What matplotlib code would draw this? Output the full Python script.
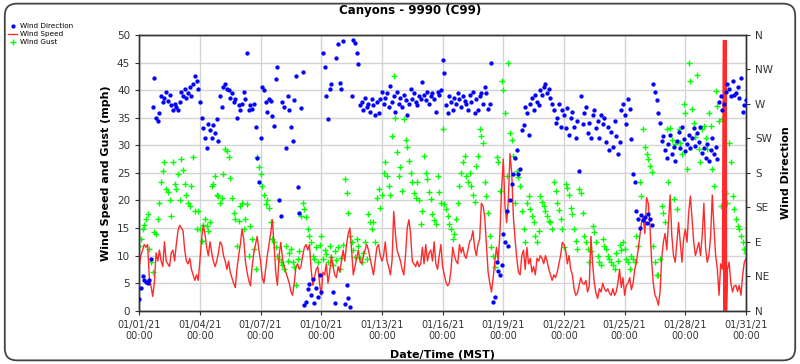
import numpy as np
import matplotlib
matplotlib.use("Agg")
import matplotlib.pyplot as plt
from matplotlib.lines import Line2D
from matplotlib.patches import FancyBboxPatch

# ---------------- data (2-hour steps, 12 values per day, Jan 1 - Jan 30 + final) ----------------
speed_mph = [
    8, 10, 11, 12, 11.5, 12, 6, 4.5, 2.6, 5, 10.5, 9,
    11, 9, 8, 12.5, 9, 8.5, 8, 10.5, 11, 9, 12, 14.5,
    15.5, 15, 14.5, 11, 9, 8.5, 9.5, 7.5, 6.5, 5.5, 6.5, 5.5,
    9, 13, 15.5, 14, 11.5, 10, 12.5, 10.5, 9, 8, 9, 10.5,
    12.5, 12, 10, 9, 7.5, 9, 7, 6, 5, 4.2, 7.5, 10,
    12, 14.8, 13, 9, 7, 5.5, 4.5, 8, 10.5, 12, 13.5, 11,
    9, 6, 5, 7.5, 10, 12, 14, 16.5, 12, 7, 4.6, 10,
    12.4, 9.5, 8, 7, 6, 5, 3.5, 2.8, 5, 8, 8.5, 7.5,
    8, 10, 11.5, 12, 11, 12, 7.5, 4.6, 6, 7.5, 8, 5,
    2.8, 7, 6.5, 8.5, 5, 7, 10, 8, 6.5, 6, 8, 7,
    9, 11, 9, 12, 14, 15, 11, 6.5, 8, 9.5, 11, 9,
    8.5, 10, 11, 12, 11, 9.5, 8, 6.5, 9, 11.5, 12, 10,
    9, 10, 12.5, 9, 8, 6.5, 9, 18, 14, 11, 10, 9,
    7.5, 6.5, 10, 15, 16.5, 14, 9, 8.5, 8, 9, 8, 8.5,
    11.5, 8.5, 12, 9, 10.5, 11, 9, 12.5, 8.5, 7.5, 10, 12,
    8, 6.5, 5.2, 4.5, 5, 7.5, 11.5, 10, 9, 8.5, 12, 10.5,
    11.5, 10, 9.5, 11, 12.5, 13, 14.5, 11.5, 10, 12, 13, 19.5,
    19, 17, 12, 7, 5, 3.4, 6, 9, 11.5, 9, 14, 22,
    27.5, 19, 16, 20, 28.5, 25, 17, 13, 9.5, 7, 6.5, 10,
    11, 7.5, 11.5, 8.5, 9.5, 7, 8, 6.5, 9.5, 9, 10, 9.5,
    8.5, 10, 9, 7.5, 6.5, 5.5, 6.5, 6, 7, 8.5, 10, 12.4,
    12, 11, 8.5, 10, 7.5, 6.5, 4, 2.8, 3.2, 4.6, 6, 5,
    4.8, 5.5, 3.4, 4.5, 13.5, 8.5, 5, 3.2, 2.2, 4, 3.4, 5,
    4, 3.5, 4, 3.2, 2.8, 4, 2.8, 3.4, 5, 7.5, 4.2, 6,
    2.8, 4.6, 5, 6, 3.8, 5, 7.5, 8.8, 11, 13.5, 16, 17,
    14, 20.5, 19.5, 15.5, 9, 5, 2.8, 2.2, 1, 3.4, 9.5, 12.5,
    14, 11, 16, 21, 13.5, 10, 8.8, 12.4, 16, 12.4, 8.8, 13,
    14.8, 12.4, 17.8, 20.8, 16.5, 12.4, 10, 11.2, 12.4, 10, 13.5, 19.5,
    11.5, 8.8, 10, 13.5, 21, 15, 10, 7.5, 2.8, 8.5, 7.5, 0,
    49, 7.5, 8.8, 5, 3.4, 4.5, 4.6, 3.5, 4.6, 2.8, 6.4, 8.8,
    9.5,
]

# short burst of bad readings drawn as a solid bar (hours from Jan 1 00:00)
spike_hours = [693.3, 693.6, 693.9, 694.2, 694.5, 694.8, 695.1, 695.4,
               695.7, 696.3, 696.6, 696.9]
spike_mph = [49, 0, 49, 0, 49, 0, 49, 0, 49, 0, 49, 0]

direction_deg = [
    15, 30, 45, 40, 38, 36, 40, 68, 266, 304, 252, 248,
    258, 280, 272, 278, 285, 274, 282, 268, 262, 270, 266, 262,
    272, 285, 280, 290, 278, 284, 292, 280, 296, 306, 300, 290,
    272, 252, 238, 226, 212, 244, 236, 225, 242, 232, 250, 222,
    281, 266, 292, 296, 290, 288, 278, 284, 272, 276, 252, 268,
    262, 270, 286, 276, 336, 262, 268, 264, 270, 240, 200, 168,
    226, 292, 288, 272, 260, 276, 274, 254, 241, 302, 318, 145,
    124, 272, 266, 213, 280, 262, 240, 222, 275, 306, 162, 128,
    265, 312, 8, 12, 28, 35, 20, 42, 10, 30, 18, 46,
    25, 336, 318, 280, 250, 290, 296, 24, 10, 330, 348, 297,
    290, 352, 9, 33, 16, 5, 280, 354, 350, 336, 322, 268,
    272, 262, 278, 266, 270, 260, 276, 268, 256, 272, 258, 276,
    285, 270, 278, 284, 266, 294, 272, 280, 260, 286, 270, 278,
    266, 282, 275, 256, 270, 290, 276, 284, 272, 268, 280, 277,
    298, 282, 275, 286, 270, 280, 284, 276, 260, 285, 282, 288,
    327, 310, 268, 258, 281, 272, 262, 278, 270, 284, 276, 266,
    280, 274, 270, 262, 282, 272, 286, 258, 276, 262, 280, 284,
    270, 292, 284, 264, 270, 324, 12, 18, 64, 52, 46, 60,
    100, 90, 130, 85, 144, 166, 178, 200, 210, 178, 185, 236,
    242, 266, 258, 230, 270, 278, 262, 282, 272, 268, 288, 282,
    292, 296, 284, 290, 278, 270, 262, 245, 252, 270, 240, 262,
    256, 238, 265, 230, 252, 260, 240, 226, 248, 182, 280, 244,
    258, 266, 232, 245, 226, 255, 262, 238, 248, 226, 256, 244,
    252, 220, 240, 210, 234, 214, 248, 228, 205, 220, 262, 270,
    256, 244, 276, 264, 224, 178, 168, 130, 120, 108, 125, 118,
    122, 114, 126, 120, 112, 296, 286, 275, 258, 245, 222, 228,
    210, 200, 218, 230, 205, 214, 196, 222, 234, 212, 240, 224,
    208, 218, 230, 212, 226, 238, 215, 232, 220, 240, 206, 212,
    200, 218, 196, 210, 226, 205, 214, 198, 272, 280, 262, 270,
    285, 296, 290, 280, 300, 282, 284, 292, 278, 304, 260, 268,
    275,
]

gust_mph = [
    11.8, 13, 14.8, 15.5, 16.6, 17.5, 11.2, 8.8, 7, 14.2, 14, 16.6,
    19.6, 23.3, 25.4, 27, 22, 21.5, 20, 17.2, 26.9, 23, 22, 24.8,
    20, 27.5, 25.5, 23, 21, 19.6, 19, 22.7, 27.8, 18, 14.8, 18.1,
    14.8, 12.7, 15.5, 16.6, 15.4, 14.5, 16, 22.6, 23, 24.5, 21, 20.8,
    19.6, 20.5, 24.8, 29.3, 29, 27.8, 24, 20.5, 17.8, 16.6, 11.8, 16.3,
    19, 19.6, 14.8, 16.6, 19.3, 10, 15.4, 13, 11.2, 7.6, 27.8, 26,
    24.8, 22.6, 21, 19.3, 20, 18.7, 16, 13, 12.4, 11.5, 10, 9.4,
    8.8, 8.2, 7.6, 11.8, 9, 10.5, 11.2, 8.8, 8, 4.6, 9.4, 10.8,
    17.2, 19.6, 18.4, 17, 14.8, 13.6, 12.4, 10, 9.4, 11.5, 8.8, 12,
    13.6, 9.4, 11, 10.3, 8.8, 11.8, 9.8, 8.2, 10.8, 9.2, 11.5, 7.6,
    9.6, 12, 23.9, 21.4, 17.8, 13.6, 12.4, 11, 9.8, 13, 11.8, 9.6,
    8.8, 10.5, 12.4, 9.4, 17.5, 16, 14.8, 16, 12.4, 20.5, 22, 18.7,
    21, 25, 26.9, 24.5, 22.7, 21, 31.7, 42.5, 35, 28.7, 24.5, 26,
    21.7, 34.7, 31, 29.6, 27.2, 25, 23.3, 21.4, 20.5, 23.3, 20, 15.7,
    18, 28, 25, 23.9, 21.5, 20.3, 17.5, 16.4, 15.8, 24.5, 21.6, 19.6,
    32.9, 19.3, 18.4, 17.2, 15.8, 14.8, 13, 14, 16.6, 19.6, 22.6, 25,
    26.9, 28, 24.5, 23.3, 25, 22.6, 21, 19.8, 26.3, 28, 32.9, 31.7,
    30.5, 23.3, 20.8, 17.8, 13.6, 11.5, 10, 7.9, 27.8, 27, 21.7, 41.6,
    40, 35.9, 24.5, 45, 32.3, 31, 28, 19.6, 25.4, 24.2, 22.7, 18,
    14.8, 12.4, 19.6, 20.8, 18.4, 17.2, 16, 13.6, 12.4, 14.5, 20.8, 19.8,
    19, 18, 17.2, 16.3, 16, 14.8, 23.3, 21.7, 19.6, 18.2, 16.6, 14.8,
    11.5, 23, 22.2, 21, 18.7, 17.5, 14.8, 12.7, 11.2, 22, 21.4, 17.8,
    13.6, 12.4, 11.2, 8.8, 10.8, 15.4, 14.2, 12.4, 10, 8.8, 8.2, 13,
    11.8, 11.2, 10, 9.4, 8.8, 8.2, 7.6, 10.5, 9, 12, 11, 12.4,
    11.2, 9.4, 8.8, 7.6, 10, 9.4, 8.8, 13.5, 11.8, 23.3, 20.8, 32.9,
    29.6, 28.4, 27.5, 26.3, 25.2, 11.8, 8.8, 6.4, 6.4, 9.4, 19, 17.8,
    16, 32.9, 23.3, 33.2, 31, 20.3, 30.2, 18.4, 32.9, 30.5, 28.4, 37.4,
    35.9, 25.7, 45, 41.6, 36.5, 34, 31.5, 42.8, 29.3, 26.9, 32.9, 33.5,
    31.4, 29.3, 35.9, 33.5, 25.7, 22.7, 39.8, 37.1, 34.4, 19, 34.7, 21.7,
    21.4, 19.6, 30.5, 26.9, 20.8, 18.4, 16.6, 15.4, 14.8, 13.6, 12.4, 11.2,
    10.5,
]

tick_labels = ["01/01/21\n00:00", "01/04/21\n00:00", "01/07/21\n00:00",
               "01/10/21\n00:00", "01/13/21\n00:00", "01/16/21\n00:00",
               "01/19/21\n00:00", "01/22/21\n00:00", "01/25/21\n00:00",
               "01/28/21\n00:00", "01/31/21\n00:00"]
dir_labels = ["N", "NE", "E", "SE", "S", "SW", "W", "NW", "N"]

# ---------------- figure ----------------
STEP_H = 2
hours = np.arange(len(speed_mph)) * STEP_H
dir_hours = np.arange(len(direction_deg)) * STEP_H
gust_hours = np.arange(len(gust_mph)) * STEP_H

# merge spike into speed series
sp_h = np.concatenate([hours, spike_hours])
sp_v = np.concatenate([np.array(speed_mph, float), spike_mph])
order = np.argsort(sp_h, kind="stable")
sp_h, sp_v = sp_h[order], sp_v[order]

fig = plt.figure(figsize=(8, 3.64), dpi=100)
fig.patch.set_facecolor("white")
border = FancyBboxPatch((0.006, 0.01), 0.988, 0.98, transform=fig.transFigure,
                        boxstyle="round,pad=0,rounding_size=0.015",
                        fill=False, edgecolor="#444444", linewidth=1.3,
                        mutation_aspect=800 / 364)
fig.patches.append(border)

ax = fig.add_axes([0.174, 0.1464, 0.7585, 0.7574])
ax.set_xlim(0, 720)
ax.set_ylim(0, 50)
ax.set_xticks(np.arange(0, 721, 72))
ax.set_xticklabels(tick_labels)
ax.set_yticks(np.arange(0, 51, 5))
ax.grid(True, color="#d4d4d4", linewidth=1.0)
ax.set_axisbelow(True)

ax.plot(gust_hours, gust_mph, linestyle="none", marker="+", color="#00ff00",
        markersize=4.8, markeredgewidth=1.0, zorder=2)
ax.plot(sp_h, sp_v, color="#ff2a2a", linewidth=1.0, zorder=3)

ax2 = ax.twinx()
ax2.set_ylim(0, 360)
ax2.set_yticks(np.arange(0, 361, 45))
ax2.set_yticklabels(dir_labels)
ax2.plot(dir_hours, direction_deg, linestyle="none", marker="o", color="#0000ff",
         markersize=2.1, zorder=4)

for a in (ax, ax2):
    for s in a.spines.values():
        s.set_color("#333333")
        s.set_linewidth(1.0)
    a.tick_params(colors="#333333", labelsize=7.5, length=3, width=0.8)
ax.tick_params(axis="x", labelsize=7)

ax.set_ylabel("Wind Speed and Gust (mph)", fontsize=8, fontweight="bold", labelpad=4)
ax2.set_ylabel("Wind Direction", fontsize=8, fontweight="bold", labelpad=6)
ax.set_xlabel("Date/Time (MST)", fontsize=8, fontweight="bold", labelpad=6)

fig.text(0.513, 0.972, "Canyons - 9990 (C99)", ha="center", va="center",
         fontsize=8.5, fontweight="bold")

handles = [
    Line2D([], [], linestyle="none", marker="o", markersize=2, color="#0000ff"),
    Line2D([], [], color="#ff2a2a", linewidth=1.0),
    Line2D([], [], linestyle="none", marker="+", markersize=4, markeredgewidth=1, color="#00ff00"),
]
fig.legend(handles, ["Wind Direction", "Wind Speed", "Wind Gust"],
           loc="upper left", bbox_to_anchor=(0.004, 0.95), frameon=False,
           fontsize=5.2, handlelength=1.2, handletextpad=0.4, labelspacing=0.25,
           borderpad=0.2)

fig.savefig("out.png", dpi=100, facecolor="white")
